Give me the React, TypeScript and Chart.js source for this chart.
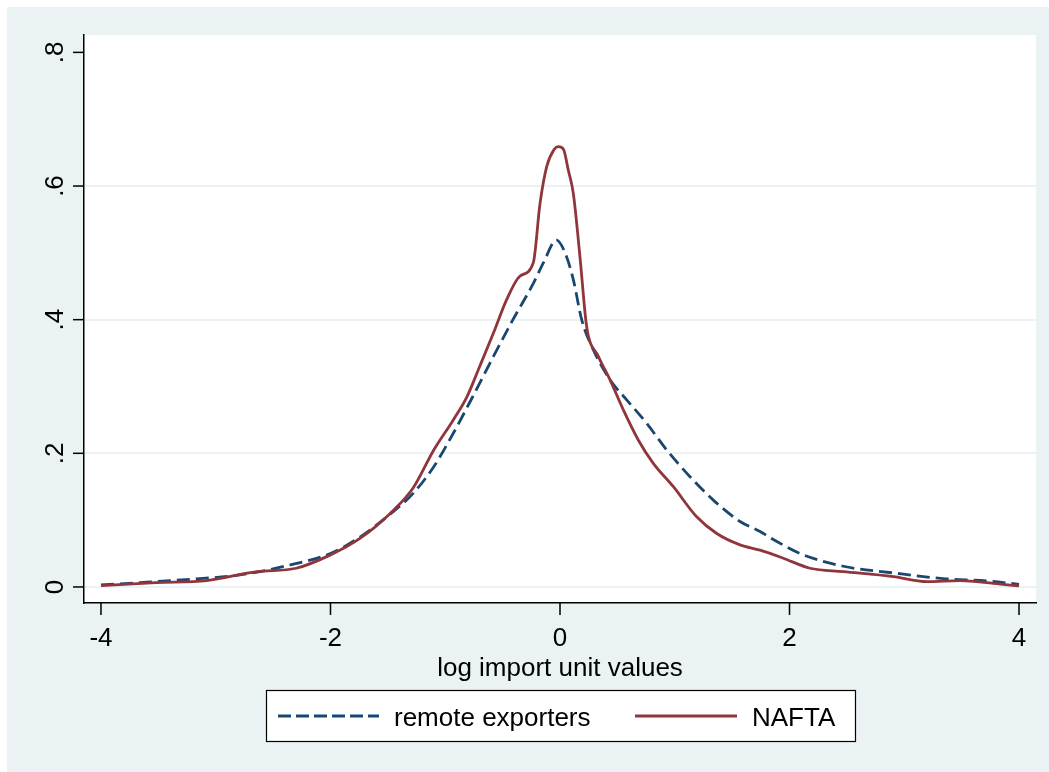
import React, { useEffect, useRef } from "react";
import { Chart, registerables } from "chart.js";

Chart.register(...registerables);

// ---- data ----
const remoteX = [-4.0, -3.66, -3.22, -2.79, -2.35, -2.0, -1.74, -1.48, -1.28, -1.1, -0.93, -0.76, -0.58, -0.41, -0.23, -0.145, -0.03, 0.044, 0.116, 0.189, 0.29, 0.436, 0.581, 0.755, 0.93, 1.133, 1.336, 1.569, 1.743, 1.83, 2.092, 2.469, 2.905, 3.34, 3.718, 4.0];
const remoteY = [0.003, 0.0065, 0.0115, 0.018, 0.033, 0.05, 0.075, 0.109, 0.14, 0.18, 0.23, 0.285, 0.345, 0.4, 0.455, 0.485, 0.519, 0.5, 0.46, 0.4, 0.355, 0.31, 0.28, 0.245, 0.205, 0.165, 0.13, 0.098, 0.083, 0.074, 0.05, 0.031, 0.021, 0.0125, 0.009, 0.004];

const naftaX = [-4.0, -3.52, -3.08, -2.64, -2.3, -2.0, -1.74, -1.48, -1.28, -1.1, -0.93, -0.81, -0.7, -0.58, -0.465, -0.35, -0.233, -0.174, -0.116, -0.05, -0.015, 0.03, 0.072, 0.116, 0.174, 0.232, 0.334, 0.436, 0.552, 0.682, 0.813, 0.988, 1.191, 1.366, 1.569, 1.743, 1.946, 2.179, 2.469, 2.905, 3.196, 3.486, 3.776, 4.0];
const naftaY = [0.002, 0.0065, 0.0095, 0.023, 0.028, 0.048, 0.073, 0.11, 0.148, 0.205, 0.25, 0.285, 0.33, 0.38, 0.43, 0.465, 0.485, 0.574, 0.629, 0.655, 0.659, 0.655, 0.624, 0.589, 0.494, 0.39, 0.345, 0.31, 0.265, 0.22, 0.185, 0.15, 0.105, 0.08, 0.063, 0.055, 0.043, 0.028, 0.023, 0.0155, 0.008, 0.0095, 0.0055, 0.0015];

const xTickValues = [-4, -2, 0, 2, 4];
const xTickLabels = ["-4", "-2", "0", "2", "4"];
const yTickValues = [0, 0.2, 0.4, 0.6, 0.8];
const yTickLabels = ["0", ".2", ".4", ".6", ".8"];

const seriesNames = ["remote exporters", "NAFTA"];
const xAxisTitle = "log import unit values";

const BG = "#EAF2F3";
const NAVY = "#1A476F";
const MAROON = "#90353B";
const FONT = "26px 'Liberation Sans', Arial, sans-serif";

const decorPlugin = {
  id: "stataDecor",
  beforeDraw(chart: any) {
    const { ctx, width, height, chartArea } = chart;
    ctx.save();
    ctx.fillStyle = "#ffffff";
    ctx.fillRect(0, 0, width, height);
    ctx.fillStyle = BG;
    ctx.fillRect(7, 7, width - 7, height - 7);
    ctx.fillStyle = "#ffffff";
    ctx.fillRect(chartArea.left, chartArea.top, chartArea.right - chartArea.left, chartArea.bottom - chartArea.top);
    ctx.restore();
  },
  afterDraw(chart: any) {
    const { ctx, chartArea } = chart;
    const xs = chart.scales.x;
    const ys = chart.scales.y;
    ctx.save();
    ctx.strokeStyle = "#000";
    ctx.lineWidth = 1.5;
    ctx.fillStyle = "#000";
    ctx.font = FONT;
    // y ticks & labels
    yTickValues.forEach((v, i) => {
      const py = ys.getPixelForValue(v);
      ctx.beginPath();
      ctx.moveTo(chartArea.left - 11, py);
      ctx.lineTo(chartArea.left, py);
      ctx.stroke();
      ctx.save();
      ctx.translate(63, py);
      ctx.rotate(-Math.PI / 2);
      ctx.textAlign = "center";
      ctx.textBaseline = "alphabetic";
      ctx.fillText(yTickLabels[i], 0, 0);
      ctx.restore();
    });
    // x ticks & labels
    xTickValues.forEach((v, i) => {
      const px = xs.getPixelForValue(v);
      ctx.beginPath();
      ctx.moveTo(px, chartArea.bottom);
      ctx.lineTo(px, chartArea.bottom + 12);
      ctx.stroke();
      ctx.textAlign = "center";
      ctx.textBaseline = "alphabetic";
      ctx.fillText(xTickLabels[i], px, 646);
    });
    // axis title
    ctx.textAlign = "center";
    ctx.fillText(xAxisTitle, (chartArea.left + chartArea.right) / 2, 676);
    // legend
    const bx = 266, by = 690, bw = 589, bh = 51;
    ctx.fillStyle = "#fff";
    ctx.fillRect(bx, by, bw, bh);
    ctx.lineWidth = 1.2;
    ctx.strokeStyle = "#000";
    ctx.strokeRect(bx + 0.5, by + 0.5, bw, bh);
    const ly = 716;
    ctx.lineWidth = 2.8;
    ctx.strokeStyle = NAVY;
    ctx.setLineDash([13, 5]);
    ctx.beginPath();
    ctx.moveTo(278, ly);
    ctx.lineTo(379, ly);
    ctx.stroke();
    ctx.setLineDash([]);
    ctx.strokeStyle = MAROON;
    ctx.beginPath();
    ctx.moveTo(635, ly);
    ctx.lineTo(737, ly);
    ctx.stroke();
    ctx.fillStyle = "#000";
    ctx.textAlign = "left";
    ctx.fillText(seriesNames[0], 394, 726);
    ctx.fillText(seriesNames[1], 752, 726);
    ctx.restore();
  },
};

export default function App() {
  const canvasRef = useRef<HTMLCanvasElement>(null);

  useEffect(() => {
    if (!canvasRef.current) return;
    const chart = new Chart(canvasRef.current, {
      type: "line",
      data: {
        datasets: [
          {
            label: seriesNames[0],
            data: remoteX.map((x, i) => ({ x, y: remoteY[i] })),
            borderColor: NAVY,
            borderWidth: 2.8,
            borderDash: [13, 6],
            pointRadius: 0,
            fill: false,
            cubicInterpolationMode: "monotone",
            order: 2,
          },
          {
            label: seriesNames[1],
            data: naftaX.map((x, i) => ({ x, y: naftaY[i] })),
            borderColor: MAROON,
            borderWidth: 2.8,
            pointRadius: 0,
            fill: false,
            cubicInterpolationMode: "monotone",
            order: 1,
          },
        ],
      },
      options: {
        responsive: false,
        animation: false,
        layout: { padding: { left: 84, top: 35, right: 13, bottom: 169 } },
        plugins: { legend: { display: false }, tooltip: { enabled: false } },
        scales: {
          x: {
            type: "linear",
            min: -4.148,
            max: 4.148,
            afterBuildTicks: (scale: any) => {
              scale.ticks = xTickValues.map((v) => ({ value: v }));
            },
            ticks: { display: false },
            grid: { display: false, drawTicks: false },
            border: { display: true, color: "#000", width: 1.5 },
          },
          y: {
            type: "linear",
            min: -0.024,
            max: 0.826,
            afterBuildTicks: (scale: any) => {
              scale.ticks = yTickValues.map((v) => ({ value: v }));
            },
            ticks: { display: false },
            grid: {
              display: true,
              drawTicks: false,
              lineWidth: 2,
              color: (c: any) => (c.tick && c.tick.value === 0.8 ? "rgba(0,0,0,0)" : BG),
            },
            border: { display: true, color: "#000", width: 1.5 },
          },
        },
      },
      plugins: [decorPlugin],
    });
    return () => chart.destroy();
  }, []);

  return (
    <div style={{ position: "fixed", left: 0, top: 0, width: 1049, height: 772 }}>
      <canvas ref={canvasRef} width={1049} height={772} style={{ width: 1049, height: 772, display: "block" }} />
    </div>
  );
}
